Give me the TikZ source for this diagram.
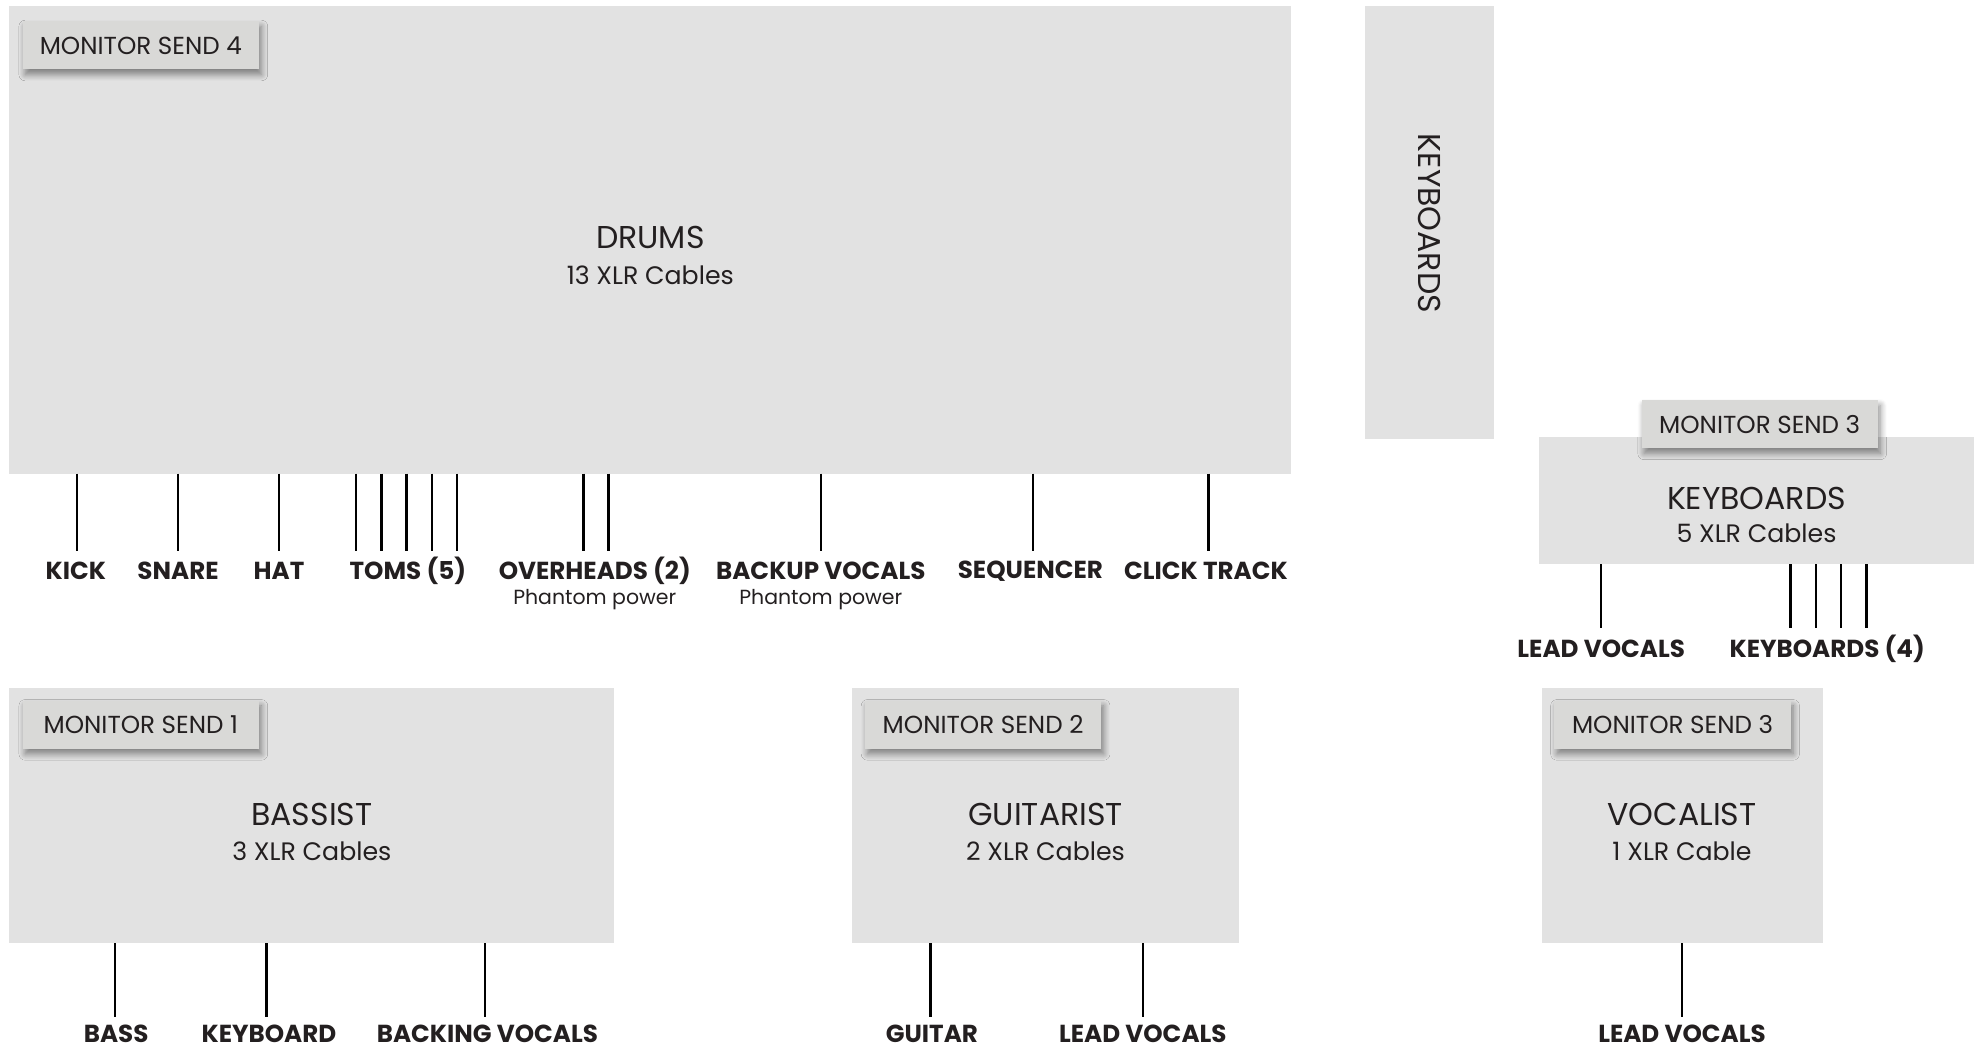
\documentclass[tikz,border=0pt]{standalone}
\usepackage{fontspec}
\setmainfont{Poppins}
\usetikzlibrary{shadows.blur}
\definecolor{boxgray}{HTML}{E2E2E2}
\definecolor{taggray}{HTML}{D9D9D7}
\definecolor{ink}{HTML}{231F20}
\tikzset{
  area/.style={fill=boxgray, draw=none, inner sep=0pt, outer sep=0pt, anchor=north west},
  tag/.style={fill=taggray, draw=none, inner sep=0pt, outer sep=0pt, anchor=north west,
     minimum width=187pt, minimum height=38pt, text=ink, font=\fontsize{19.5}{21}\selectfont,
     blur shadow={shadow xshift=2pt, shadow yshift=-4pt, shadow blur radius=5pt,
                  shadow blur steps=8, shadow opacity=45}},
  ttl/.style={text=ink, inner sep=0pt, font=\fontsize{25}{27}\selectfont},
  sub/.style={text=ink, inner sep=0pt, font=\fontsize{20}{22}\selectfont},
  lbl/.style={text=ink, inner sep=0pt, font=\bfseries\fontsize{19.5}{21}\selectfont},
  note/.style={text=ink, inner sep=0pt, font=\fontsize{16.2}{18}\selectfont},
  cable/.style={draw=black, line width=2pt},
}
\begin{document}
\begin{tikzpicture}[x=1pt, y=-1pt]
\useasboundingbox (0,0) rectangle (1568,832);

% ---------------- boxes ----------------
\node[area, minimum width=1015pt, minimum height=370pt] (drums) at (7,5) {};
\node[area, minimum width=102pt, minimum height=343pt] (kbv) at (1081,5) {};
\node[area, minimum width=344pt, minimum height=101pt] (kb) at (1219,346) {};
\node[area, minimum width=479pt, minimum height=202pt] (bass) at (7,545) {};
\node[area, minimum width=306pt, minimum height=202pt] (guit) at (675,545) {};
\node[area, minimum width=223pt, minimum height=202pt] (voc) at (1221,545) {};

% ---------------- tags ----------------
\node[tag] (ms4) at (18,17) {MONITOR SEND 4};
\node[tag] (ms3k) at (1300,317) {MONITOR SEND 3};
\node[tag] (ms1) at (18,555) {MONITOR SEND 1};
\node[tag] (ms2) at (685,555) {MONITOR SEND 2};
\node[tag] (ms3v) at (1231,555) {MONITOR SEND 3};

% ---------------- titles ----------------
\node[ttl] (drumsT) at (515,188) {DRUMS};
\node[sub] (drumsS) at (515,218) {13 XLR Cables};
\node[ttl, rotate=-90] (kbvT) at (1132,177) {KEYBOARDS};
\node[ttl] (kbT) at (1391,395) {KEYBOARDS};
\node[sub] (kbS) at (1391,422) {5 XLR Cables};
\node[ttl] (bassT) at (247,645) {BASSIST};
\node[sub] (bassS) at (247,674) {3 XLR Cables};
\node[ttl] (guitT) at (828,645) {GUITARIST};
\node[sub] (guitS) at (828,674) {2 XLR Cables};
\node[ttl] (vocT) at (1332,645) {VOCALIST};
\node[sub] (vocS) at (1332,674) {1 XLR Cable};

% ---------------- drum labels ----------------
\node[lbl] (kick) at (60,452) {KICK};
\node[lbl] (snare) at (141,452) {SNARE};
\node[lbl] (hat) at (221,452) {HAT};
\node[lbl] (toms) at (323,452) {TOMS (5)};
\node[lbl] (over) at (471,452) {OVERHEADS (2)};
\node[note] (overN) at (471,475) {Phantom power};
\node[lbl] (backup) at (650,452) {BACKUP VOCALS};
\node[note] (backupN) at (650,475) {Phantom power};
\node[lbl] (seq) at (816,452) {SEQUENCER};
\node[lbl] (click) at (955,452) {CLICK TRACK};

% drum cable ends
\foreach \n/\x in {k/61, s/141, h/221, t1/282, t2/302, t3/322, t4/342, t5/362,
                   o1/462, o2/482, b/650, q/818, c/957}
  \coordinate (d\n) at (\x,436);
\foreach \n in {k, s, h, t1, t2, t3, t4, t5, o1, o2, b, q, c}
  \draw[cable] (d\n |- drums.south) -- (d\n);

% ---------------- keyboard labels ----------------
\node[lbl] (kblead) at (1268,514) {LEAD VOCALS};
\node[lbl] (kbkeys) at (1447,514) {KEYBOARDS (4)};
\foreach \n/\x in {l/1268, k1/1418, k2/1438, k3/1458, k4/1478}
  \coordinate (k\n) at (\x,497);
\foreach \n in {l, k1, k2, k3, k4}
  \draw[cable] (k\n |- kb.south) -- (k\n);

% ---------------- bassist labels ----------------
\node[lbl] (bbass) at (92,819) {BASS};
\node[lbl] (bkey) at (213,819) {KEYBOARD};
\node[lbl] (bback) at (386,819) {BACKING VOCALS};
\foreach \n/\x in {1/91, 2/211, 3/384}
  \coordinate (b\n) at (\x,805);
\foreach \n in {1,2,3}
  \draw[cable] (b\n |- bass.south) -- (b\n);

% ---------------- guitarist labels ----------------
\node[lbl] (ggtr) at (738,819) {GUITAR};
\node[lbl] (glead) at (905,819) {LEAD VOCALS};
\foreach \n/\x in {1/737, 2/905}
  \coordinate (g\n) at (\x,805);
\foreach \n in {1,2}
  \draw[cable] (g\n |- guit.south) -- (g\n);

% ---------------- vocalist labels ----------------
\node[lbl] (vlead) at (1332,819) {LEAD VOCALS};
\coordinate (v1) at (1332,805);
\draw[cable] (v1 |- voc.south) -- (v1);
\end{tikzpicture}
\end{document}
